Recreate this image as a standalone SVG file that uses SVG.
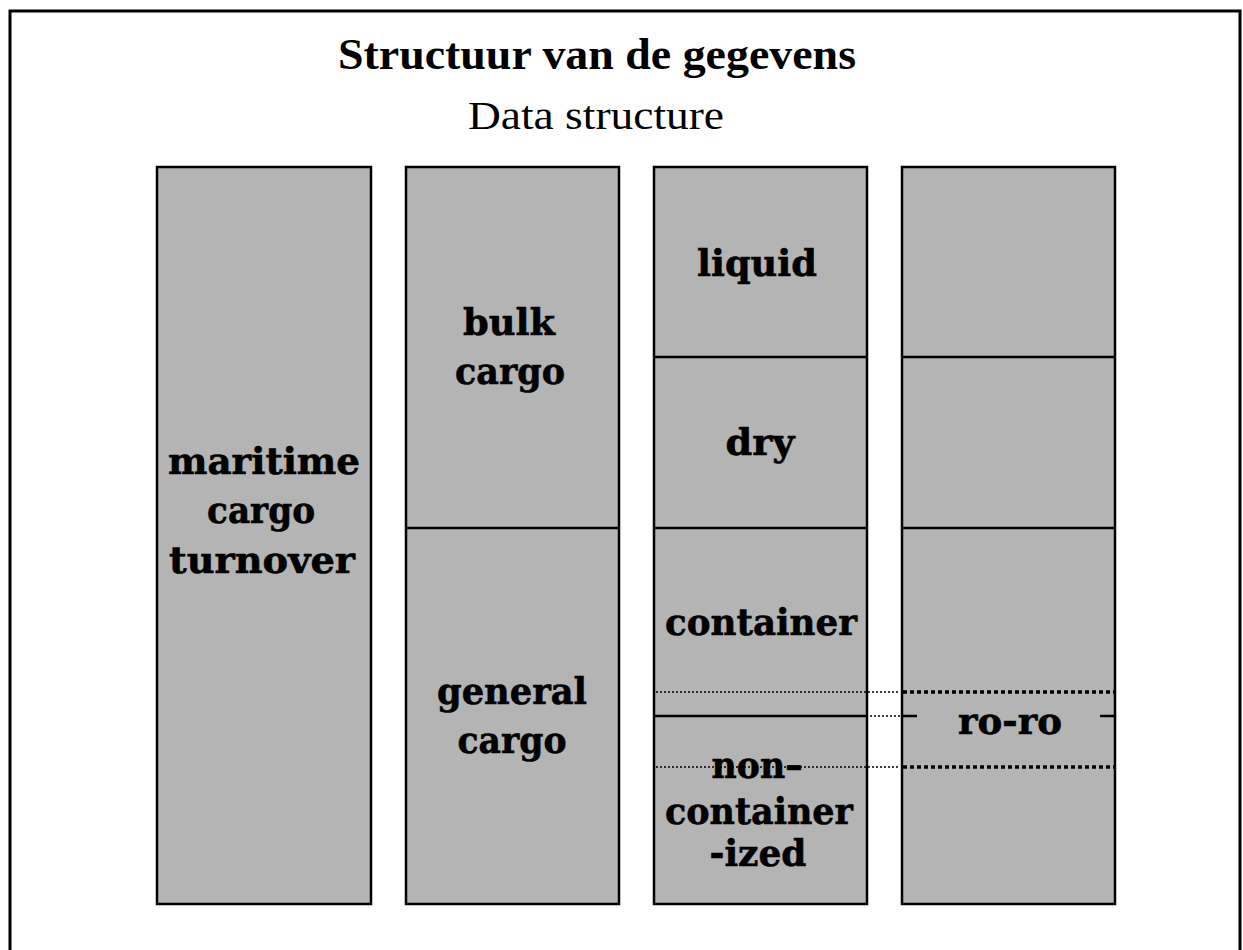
<svg xmlns="http://www.w3.org/2000/svg" width="1243" height="950" viewBox="0 0 1243 950">
<style>
.col{fill:#b4b4b4;stroke:#000;stroke-width:2.5}
.div{stroke:#000;stroke-width:2.5;fill:none}
.thin{stroke:#000;stroke-width:1.5;stroke-dasharray:2 2;fill:none}
.thick{stroke:#000;stroke-width:3.5;stroke-dasharray:4 3;fill:none}
.lbl{font-family:"DejaVu Serif","Liberation Serif",serif;font-weight:bold;font-size:37px;fill:#000;stroke:#000;stroke-width:0.6}
.title{font-family:"Liberation Serif","Times New Roman",serif;font-weight:bold;font-size:45px;fill:#000}
.sub{font-family:"Liberation Serif","Times New Roman",serif;font-size:40px;fill:#000}
</style>
<rect x="0" y="0" width="1243" height="950" fill="#fff"/>
<rect x="10" y="11" width="1230" height="960" fill="none" stroke="#000" stroke-width="3"/>
<g id="title">
<text class="title" x="597" y="69" text-anchor="middle" textLength="518" lengthAdjust="spacingAndGlyphs">Structuur van de gegevens</text>
<text class="sub" x="596" y="129" text-anchor="middle" textLength="256" lengthAdjust="spacingAndGlyphs">Data structure</text>
</g>
<g id="col1">
<rect class="col" x="157" y="167" width="214" height="737"/>
<text class="lbl" x="264" y="474" text-anchor="middle" textLength="192" lengthAdjust="spacingAndGlyphs">maritime</text>
<text class="lbl" x="261" y="523" text-anchor="middle" textLength="108" lengthAdjust="spacingAndGlyphs">cargo</text>
<text class="lbl" x="262" y="573" text-anchor="middle" textLength="186" lengthAdjust="spacingAndGlyphs">turnover</text>
</g>
<g id="col2">
<rect class="col" x="406" y="167" width="213" height="737"/>
<line class="div" x1="406" y1="528" x2="619" y2="528"/>
<text class="lbl" x="509" y="335" text-anchor="middle" textLength="92" lengthAdjust="spacingAndGlyphs">bulk</text>
<text class="lbl" x="510" y="384" text-anchor="middle" textLength="110" lengthAdjust="spacingAndGlyphs">cargo</text>
<text class="lbl" x="512" y="704" text-anchor="middle" textLength="150" lengthAdjust="spacingAndGlyphs">general</text>
<text class="lbl" x="512" y="753" text-anchor="middle" textLength="109" lengthAdjust="spacingAndGlyphs">cargo</text>
</g>
<g id="connectors">
<line class="thin" x1="656" y1="692" x2="898" y2="692"/>
<line class="thin" x1="656" y1="767" x2="898" y2="767"/>
<line class="thin" x1="870" y1="716" x2="900" y2="716"/>
</g>
<g id="col3">
<rect class="col" x="654" y="167" width="213" height="737"/>
<line class="thin" x1="656" y1="692" x2="866" y2="692"/>
<line class="thin" x1="656" y1="767" x2="866" y2="767"/>
<line class="div" x1="654" y1="357" x2="867" y2="357"/>
<line class="div" x1="654" y1="528" x2="867" y2="528"/>
<line class="div" x1="654" y1="716" x2="867" y2="716"/>
<text class="lbl" x="757" y="276" text-anchor="middle" textLength="120" lengthAdjust="spacingAndGlyphs">liquid</text>
<text class="lbl" x="760" y="455" text-anchor="middle" textLength="69" lengthAdjust="spacingAndGlyphs">dry</text>
<text class="lbl" x="761" y="635" text-anchor="middle" textLength="192" lengthAdjust="spacingAndGlyphs">container</text>
<text class="lbl" x="757" y="778" text-anchor="middle" textLength="91" lengthAdjust="spacingAndGlyphs">non–</text>
<text class="lbl" x="759" y="824" text-anchor="middle" textLength="188" lengthAdjust="spacingAndGlyphs">container</text>
<text class="lbl" x="758" y="866" text-anchor="middle" textLength="97" lengthAdjust="spacingAndGlyphs">-ized</text>
</g>
<g id="col4">
<rect class="col" x="902" y="167" width="213" height="737"/>
<line class="div" x1="902" y1="357" x2="1115" y2="357"/>
<line class="div" x1="902" y1="528" x2="1115" y2="528"/>
<line class="thick" x1="903" y1="692" x2="1115" y2="692"/>
<line class="thick" x1="903" y1="767" x2="1115" y2="767"/>
<line class="div" x1="902" y1="716" x2="917" y2="716"/>
<line class="div" x1="1100" y1="716" x2="1115" y2="716"/>
<text class="lbl" x="1010" y="734" text-anchor="middle" textLength="104" lengthAdjust="spacingAndGlyphs">ro-ro</text>
</g>
</svg>
